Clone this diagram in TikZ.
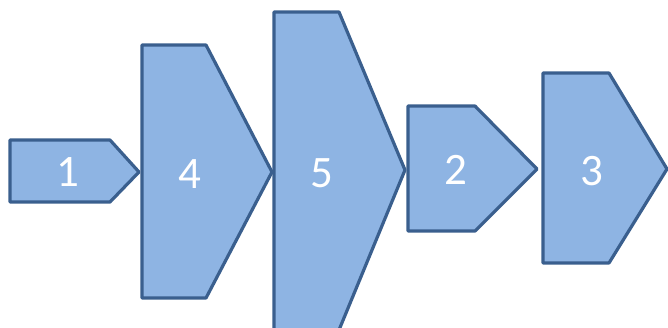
\documentclass[tikz,border=0pt]{standalone}
\usepackage{fontspec}
\setmainfont{Carlito}
\definecolor{chevfill}{HTML}{8EB4E3}
\definecolor{chevline}{HTML}{3A5F8E}
\begin{document}
\begin{tikzpicture}[x=1pt,y=-1pt,
  chev/.style={fill=chevfill,draw=chevline,line width=3.2pt,line join=round},
  lbl/.style={text=white,font=\fontsize{45}{45}\selectfont,inner sep=0pt}]
\useasboundingbox (0,0) rectangle (668,327);
\draw[chev] (10,140) -- (110,140) -- (139,172) -- (110,202) -- (10,202) -- cycle;
\draw[chev] (142,45) -- (206,45) -- (272,172) -- (206,298) -- (142,298) -- cycle;
\draw[chev] (274,12) -- (339,12) -- (405,170) -- (339,330) -- (274,330) -- cycle;
\draw[chev] (408,106) -- (475,106) -- (537,169) -- (475,231) -- (408,231) -- cycle;
\draw[chev] (543,73) -- (609,73) -- (667,169) -- (609,263) -- (543,263) -- cycle;
\node[lbl] (n1) at (67.5,172.5) {1};
\node[lbl] (n4) at (189.5,174) {4};
\node[lbl] (n5) at (322,173) {5};
\node[lbl] (n2) at (456,170) {2};
\node[lbl] (n3) at (592,171) {3};
\end{tikzpicture}
\end{document}
